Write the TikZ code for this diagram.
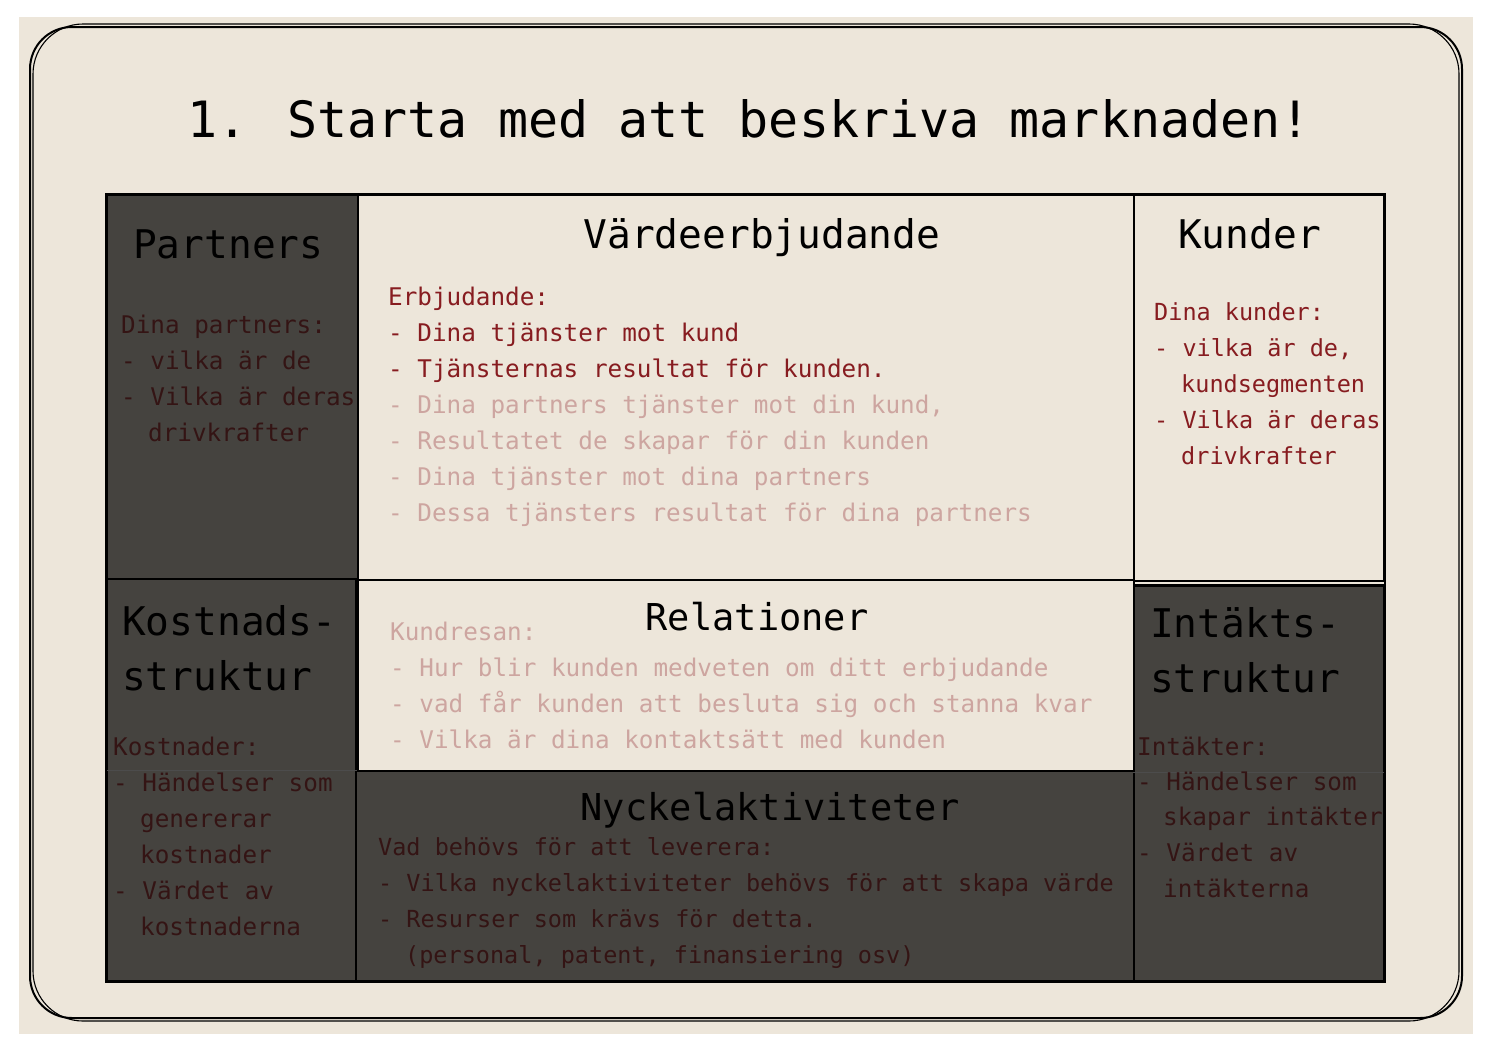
\documentclass[tikz,border=0pt]{standalone}
\usepackage{fontspec}
\setmainfont{DejaVu Sans Mono}
\newfontfamily\hfont{DejaVu Sans Mono}
\newfontfamily\bfont{DejaVu Sans Mono}
\definecolor{paper}{RGB}{237,230,218}
\definecolor{dark}{RGB}{69,67,63}
\definecolor{redtxt}{RGB}{135,28,32}
\definecolor{fadetxt}{RGB}{205,165,160}
\definecolor{dktxt}{RGB}{52,20,20}
\begin{document}
\begin{tikzpicture}[x=1pt,y=-1pt,
  box/.style={draw=black, line width=2pt, anchor=north west, inner sep=0pt, rectangle},
  maintitle/.style={font=\hfont\fontsize{50}{56}\selectfont, anchor=base, inner sep=0pt, text=black},
  head/.style={font=\hfont\fontsize{39.5}{44}\selectfont, anchor=base west, inner sep=0pt, text=black},
  headc/.style={head, anchor=base},
  headsm/.style={headc, font=\hfont\fontsize{37}{42}\selectfont},
  body/.style={font=\bfont\fontsize{24.3}{30}\selectfont, anchor=base west, inner sep=0pt},
  narrow/.style={font=\bfont\fontsize{23.5}{30}\selectfont},
  rb/.style={body, text=redtxt},
  fb/.style={body, text=fadetxt},
  db/.style={body, text=dktxt},
  frame/.style={draw=black, line width=2pt, rounded corners=42pt}]
\useasboundingbox (0,0) rectangle (1490,1052);
\fill[paper] (19,17) rectangle (1473,1034);
\coordinate (fa) at (30,27);
\coordinate (fb) at (1462,1018);
\coordinate (fc) at (33,24);
\coordinate (fd) at (1459,1021);
\draw[frame] (fa) rectangle (fb);
\draw[frame, line width=1.1pt, rounded corners=50pt] (fc) rectangle (fd);

\node[maintitle] (title) at (749,137) {1. Starta med att beskriva marknaden!};

% boxes
\node[box, fill=dark, minimum width=251pt, minimum height=384pt] (partners) at (106,194) {};
\node[box, fill=paper, minimum width=776pt, minimum height=385pt] (varde) at (357,194) {};
\node[box, fill=paper, minimum width=250pt, minimum height=386pt] (kunder) at (1133,194) {};
\node[box, fill=dark, minimum width=249pt, minimum height=402pt] (kostnad) at (106,578) {};
\node[box, fill=paper, minimum width=776pt, minimum height=191pt] (relation) at (357,579) {};
\node[box, fill=dark, minimum width=778pt, minimum height=210pt] (nyckel) at (355,770) {};
\node[box, fill=dark, minimum width=250pt, minimum height=395pt] (intakt) at (1133,585) {};
\draw[black, line width=1.2pt] (intakt.north west) -- (intakt.north east);
\draw[black!70, line width=1pt] (kostnad.west |- nyckel.north) -- (kostnad.east |- nyckel.north);
\draw[black!70, line width=1pt] ([yshift=-2pt]intakt.west |- nyckel.north) -- ([yshift=-2pt]intakt.east |- nyckel.north);
\draw[black, line width=2.5pt] (partners.north west) rectangle (intakt.south east);

% Partners
\node[head] (hpart) at (133,258) {Partners};
\node[db] (p1) at (121,333) {Dina partners:};
\node[db] (p2) at (121,369) {- vilka är de};
\node[db] (p3) at (121,405) {- Vilka är deras};
\node[db] (p4) at (148,441) {drivkrafter};

% Värdeerbjudande
\node[headc] (hvar) at (762,248) {Värdeerbjudande};
\node[rb] (v1) at (388,305) {Erbjudande:};
\node[rb] (v2) at (388,341) {- Dina tjänster mot kund};
\node[rb] (v3) at (388,377) {- Tjänsternas resultat för kunden.};
\node[fb] (v4) at (388,413) {- Dina partners tjänster mot din kund,};
\node[fb] (v5) at (388,449) {- Resultatet de skapar för din kunden};
\node[fb] (v6) at (388,485) {- Dina tjänster mot dina partners};
\node[fb] (v7) at (388,521) {- Dessa tjänsters resultat för dina partners};

% Kunder
\node[head] (hkund) at (1178,248) {Kunder};
\node[rb, narrow] (k1) at (1154,320) {Dina kunder:};
\node[rb, narrow] (k2) at (1154,356) {- vilka är de,};
\node[rb, narrow] (k3) at (1181,392) {kundsegmenten};
\node[rb, narrow] (k4) at (1154,428) {- Vilka är deras};
\node[rb, narrow] (k5) at (1181,464) {drivkrafter};

% Relationer
\node[headsm] (hrel) at (757,630) {Relationer};
\node[fb] (r1) at (390,640) {Kundresan:};
\node[fb] (r2) at (390,676) {- Hur blir kunden medveten om ditt erbjudande};
\node[fb] (r3) at (390,712) {- vad får kunden att besluta sig och stanna kvar};
\node[fb] (r4) at (390,748) {- Vilka är dina kontaktsätt med kunden};

% Nyckelaktiviteter
\node[headsm] (hnyc) at (770,820) {Nyckelaktiviteter};
\node[db, narrow] (n1) at (378,855) {Vad behövs för att leverera:};
\node[db, narrow] (n2) at (378,891) {- Vilka nyckelaktiviteter behövs för att skapa värde};
\node[db, narrow] (n3) at (378,927) {- Resurser som krävs för detta.};
\node[db, narrow] (n4) at (405,963) {(personal, patent, finansiering osv)};

% Kostnadsstruktur
\node[head] (hkos1) at (122,635) {Kostnads-};
\node[head] (hkos2) at (122,690) {struktur};
\node[db] (c1) at (113,755) {Kostnader:};
\node[db] (c2) at (113,791) {- Händelser som};
\node[db] (c3) at (140,827) {genererar};
\node[db] (c4) at (140,863) {kostnader};
\node[db] (c5) at (113,899) {- Värdet av};
\node[db] (c6) at (140,935) {kostnaderna};

% Intäktsstruktur
\node[head] (hint1) at (1150,637) {Intäkts-};
\node[head] (hint2) at (1150,692) {struktur};
\node[db] (i1) at (1137,755) {Intäkter:};
\node[db] (i2) at (1137,790) {- Händelser som};
\node[db] (i3) at (1163,825) {skapar intäkter};
\node[db] (i4) at (1137,861) {- Värdet av};
\node[db] (i5) at (1163,897) {intäkterna};
\end{tikzpicture}
\end{document}
